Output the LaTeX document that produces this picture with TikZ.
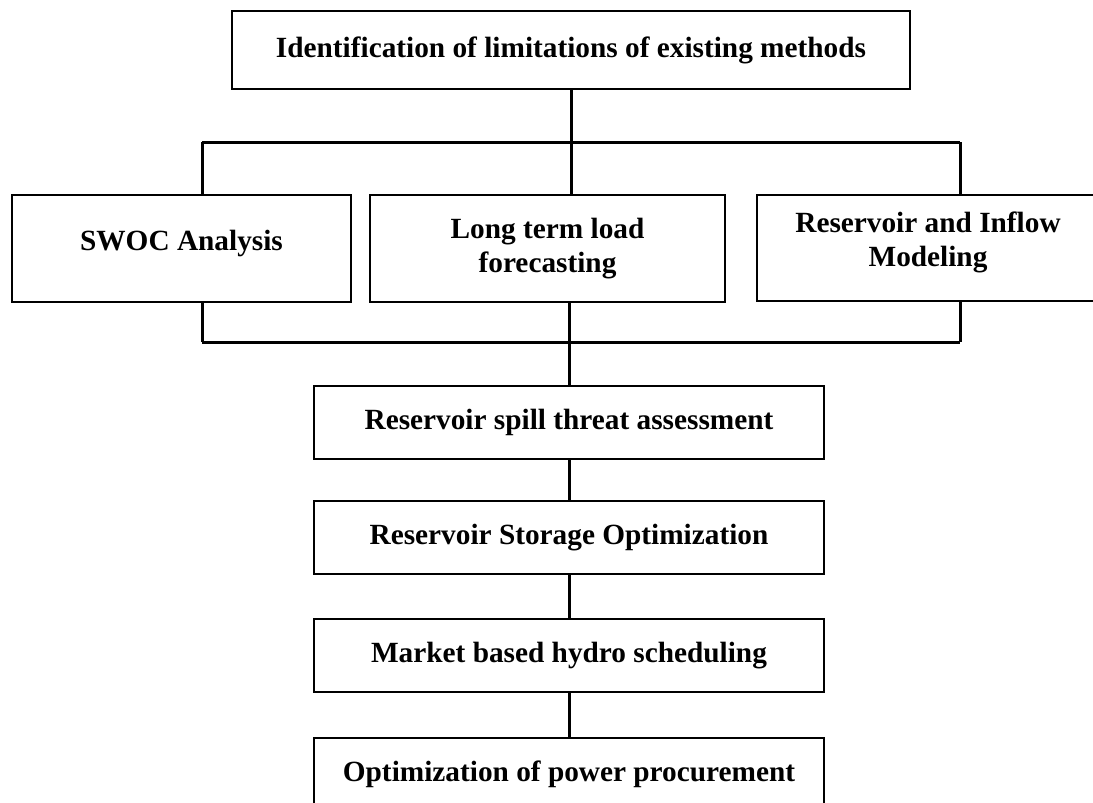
\documentclass[tikz,border=0pt]{standalone}
\usepackage{fontspec}
\setmainfont{Liberation Serif}
\begin{document}
\begin{tikzpicture}[x=1pt,y=-1pt,
  box/.style={draw, line width=2.6pt, inner sep=0pt, align=center,
    font=\fontsize{29.3}{34}\selectfont\bfseries},
  link/.style={line width=3pt}]
\useasboundingbox (0,0) rectangle (1093,803);
\clip (0,0) rectangle (1093,803);
\node[box, minimum width=678pt, minimum height=78pt] (top) at (571,50) {Identification of limitations of existing methods};
\node[box, minimum width=339pt, minimum height=107pt] (L) at (181.5,248.5) {\raisebox{5pt}[\height][\depth]{SWOC Analysis}};
\node[box, minimum width=355pt, minimum height=107pt] (M) at (547.5,248.5) {Long term load\\forecasting};
\node[box, minimum width=342pt, minimum height=106pt] (R) at (928,248) {\raisebox{5pt}[\height][\depth]{\begin{tabular}{@{}c@{}}Reservoir and Inflow\\Modeling\end{tabular}}};
\node[box, minimum width=510pt, minimum height=73pt] (s1) at (569,422.5) {Reservoir spill threat assessment};
\node[box, minimum width=510pt, minimum height=73pt] (s2) at (569,537.5) {Reservoir Storage Optimization};
\node[box, minimum width=510pt, minimum height=73pt] (s3) at (569,655.5) {Market based hydro scheduling};
\node[box, minimum width=510pt, minimum height=73pt] (s4) at (569,774.5) {Optimization of power procurement};
\coordinate (a1) at (202,142);
\coordinate (a2) at (960,142);
\coordinate (b1) at (202,342);
\coordinate (b2) at (960,342);
\draw[link] (top.south) -- (top.south |- a1);
\draw[link] (a1) -- (a2);
\draw[link] (a1) -- (a1 |- L.north);
\draw[link] (top.south |- a1) -- (top.south |- M.north);
\draw[link] (a2) -- (a2 |- R.north);
\draw[link] (b1) -- (b1 |- L.south);
\draw[link] (b2) -- (b2 |- R.south);
\draw[link] (b1) -- (b2);
\draw[link] (s1.north |- M.south) -- (s1.north);
\draw[link] (s1) -- (s2);
\draw[link] (s2) -- (s3);
\draw[link] (s3) -- (s4);
\end{tikzpicture}
\end{document}
